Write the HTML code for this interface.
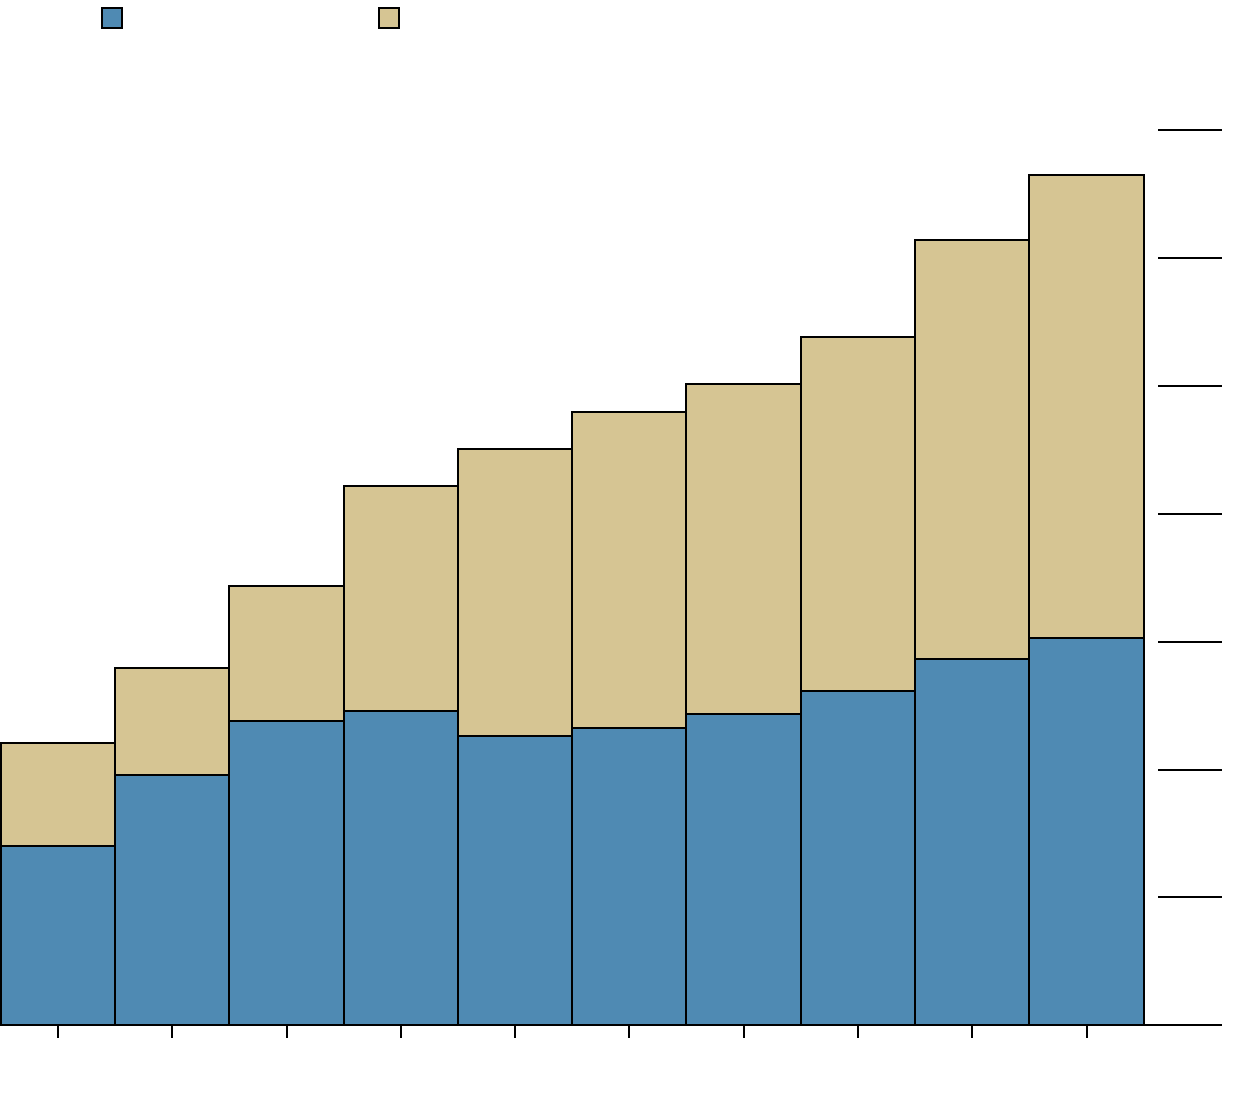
<!DOCTYPE html>
<html><head><meta charset="utf-8"><style>html,body{margin:0;padding:0;background:#fff}svg{display:block}</style></head>
<body>
<svg width="1240" height="1096" viewBox="0 0 1240 1096" xmlns="http://www.w3.org/2000/svg">
<g stroke="#000" stroke-width="2">
<rect x="102" y="8" width="20" height="20" fill="#4f8ab3"/>
<rect x="379" y="8" width="20" height="20" fill="#d6c593"/>
</g>
<g stroke="#000" stroke-width="2" id="bars"></g>
<g stroke="#000" stroke-width="2">
<line x1="1158" y1="130" x2="1222" y2="130"/>
<line x1="1158" y1="258" x2="1222" y2="258"/>
<line x1="1158" y1="386" x2="1222" y2="386"/>
<line x1="1158" y1="514" x2="1222" y2="514"/>
<line x1="1158" y1="642" x2="1222" y2="642"/>
<line x1="1158" y1="770" x2="1222" y2="770"/>
<line x1="1158" y1="897" x2="1222" y2="897"/>
<line x1="0" y1="1025" x2="1222" y2="1025"/>
</g>
<g id="ticks" stroke="#000" stroke-width="2"></g>
<script>
var xs=[1,115,229,344,458,572,686,801,915,1029,1144];
var blue=[846,775,721,711,736,728,714,691,659,638];
var tot=[743,668,586,486,449,412,384,337,240,175];
var g=document.getElementById('bars'),t=document.getElementById('ticks'),ns='http://www.w3.org/2000/svg';
for(var i=0;i<10;i++){
 var r=document.createElementNS(ns,'rect');r.setAttribute('x',xs[i]);r.setAttribute('y',tot[i]);r.setAttribute('width',xs[i+1]-xs[i]);r.setAttribute('height',blue[i]-tot[i]);r.setAttribute('fill','#d6c593');g.appendChild(r);
 r=document.createElementNS(ns,'rect');r.setAttribute('x',xs[i]);r.setAttribute('y',blue[i]);r.setAttribute('width',xs[i+1]-xs[i]);r.setAttribute('height',1025-blue[i]);r.setAttribute('fill','#4f8ab3');g.appendChild(r);
 var c=Math.round((xs[i]+xs[i+1])/2);
 var l=document.createElementNS(ns,'line');l.setAttribute('x1',c);l.setAttribute('x2',c);l.setAttribute('y1',1025);l.setAttribute('y2',1038);t.appendChild(l);
}
</script>
</svg>
</body></html>
